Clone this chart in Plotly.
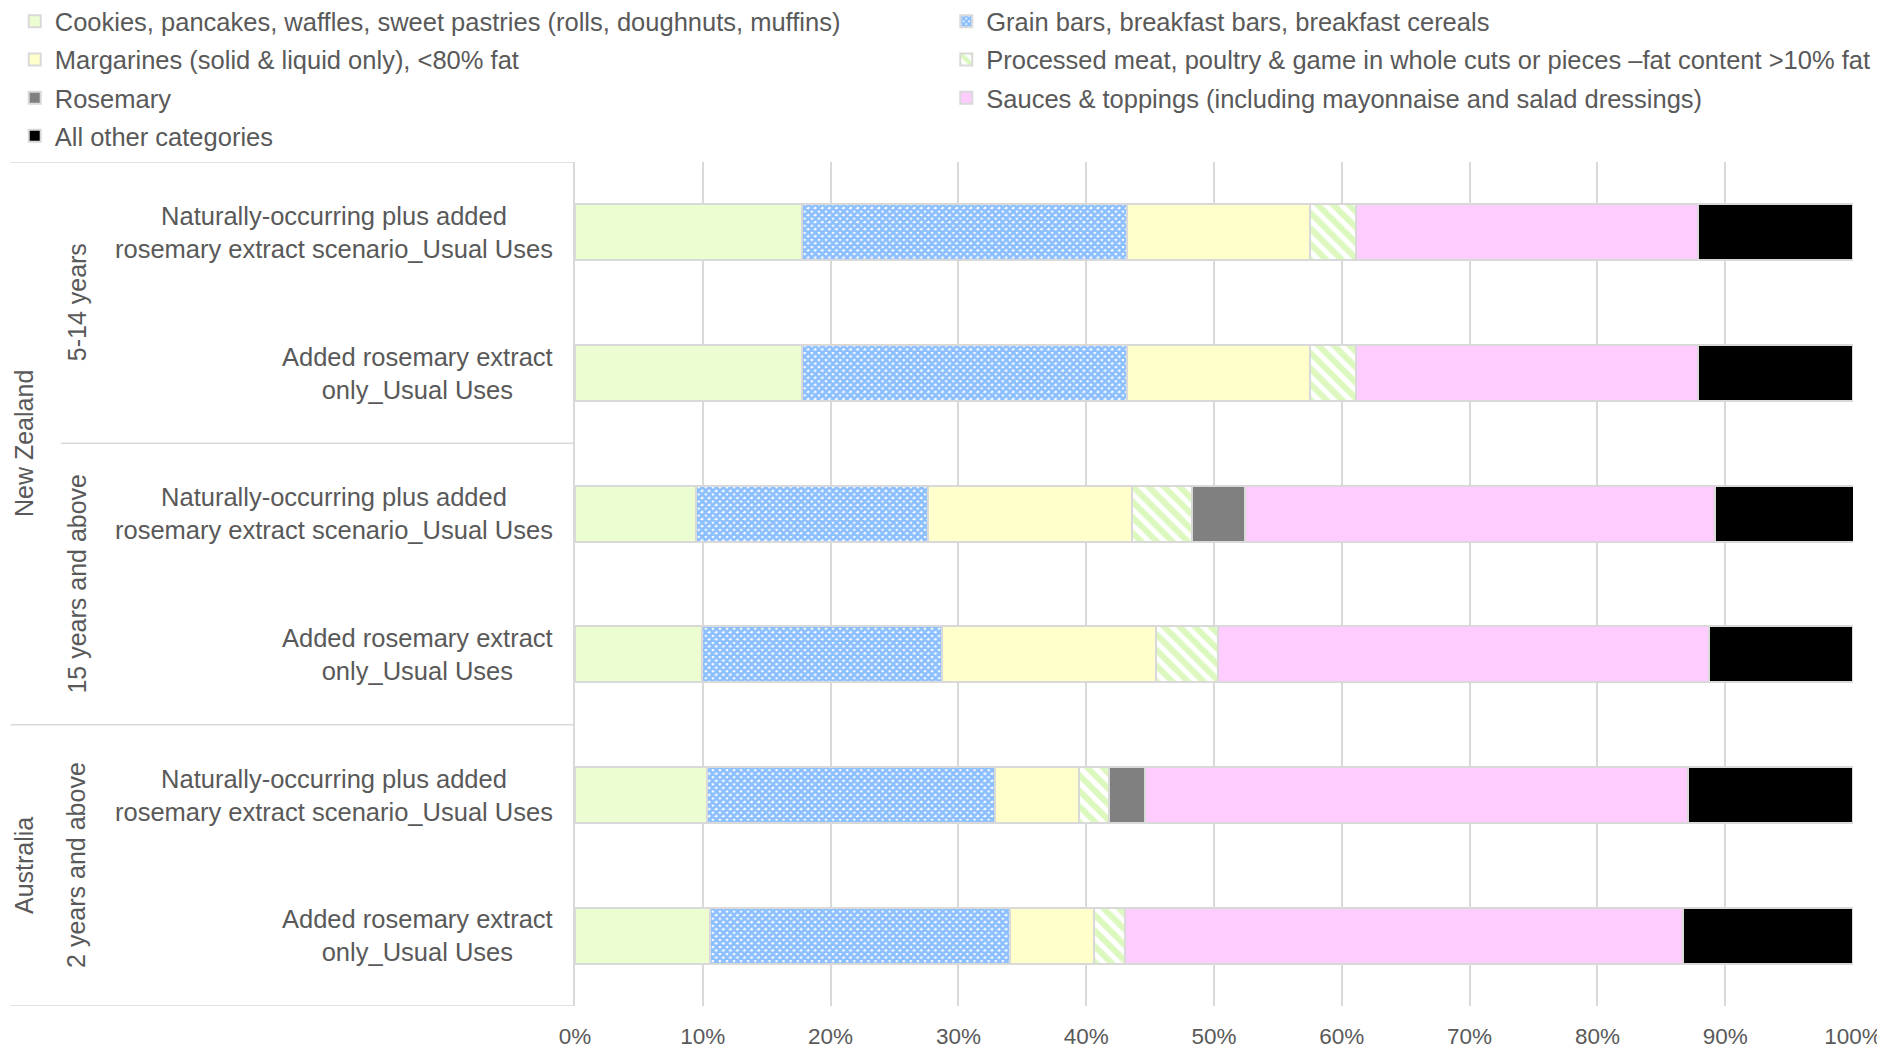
import plotly.graph_objects as go

# ---------------- data ----------------
countries = ["New Zealand", "Australia"]
age_groups = ["5-14 years", "15 years and above", "2 years and above"]
scenarios = [
    "Naturally-occurring plus added<br>rosemary extract scenario_Usual Uses",
    "Added rosemary extract<br>only_Usual Uses",
]
# row keys (top to bottom)
rows = ["NZ 5-14 N", "NZ 5-14 A", "NZ 15+ N", "NZ 15+ A", "AU 2+ N", "AU 2+ A"]
row_scenario = [0, 1, 0, 1, 0, 1]

series_names = [
    "Cookies, pancakes, waffles, sweet pastries (rolls, doughnuts, muffins)",
    "Grain bars, breakfast bars, breakfast cereals",
    "Margarines (solid & liquid only), <80% fat",
    "Processed meat, poultry & game in whole cuts or pieces –fat content >10% fat",
    "Rosemary",
    "Sauces & toppings (including mayonnaise and salad dressings)",
    "All other categories",
]
cookies    = [17.8, 17.8, 9.5, 9.9, 10.3, 10.6]
grain      = [25.4, 25.4, 18.1, 18.8, 22.6, 23.4]
margarines = [14.3, 14.3, 16.0, 16.8, 6.5, 6.6]
processed  = [3.6, 3.6, 4.7, 4.8, 2.4, 2.4]
rosemary   = [0.0, 0.0, 4.1, 0.0, 2.8, 0.0]
sauces     = [26.8, 26.8, 36.8, 38.4, 42.5, 43.7]
other      = [12.1, 12.1, 10.9, 11.3, 12.9, 13.3]
series_values = [cookies, grain, margarines, processed, rosemary, sauces, other]

x_ticks = [0, 10, 20, 30, 40, 50, 60, 70, 80, 90, 100]
x_tick_labels = ["0%", "10%", "20%", "30%", "40%", "50%", "60%", "70%", "80%", "90%", "100%"]

# ---------------- styles ----------------
FONT = "Liberation Sans, Arial, sans-serif"
TXT = "#595959"
GRID = "#d9d9d9"
styles = [
    dict(color="#ecfdd1"),
    dict(color="white", pattern=dict(shape="x", fgcolor="#1a80ff", bgcolor="white", size=5, solidity=0.8)),
    dict(color="#ffffcc"),
    dict(color="white", pattern=dict(shape="\\", fgcolor="#b9f27f", bgcolor="white", size=11, solidity=0.55)),
    dict(color="#808080"),
    dict(color="#ffccff"),
    dict(color="#000000"),
]
legend_of = ["legend", "legend2", "legend", "legend2", "legend", "legend2", "legend"]

fig = go.Figure()
for i, (name, vals, st) in enumerate(zip(series_names, series_values, styles)):
    fig.add_trace(go.Bar(
        y=rows, x=vals, name=name, orientation="h",
        legend=legend_of[i], legendgroup="g%d" % i,
        marker=dict(line=dict(color=GRID, width=2), **st),
        hovertemplate="%{x}%<extra>" + name + "</extra>",
    ))

# scenario labels
for r, s in zip(rows, row_scenario):
    fig.add_annotation(x=-0.016, xref="paper", y=r, yref="y", text=scenarios[s],
                       showarrow=False, xanchor="right", yanchor="middle", align="center",
                       font=dict(family=FONT, size=25.5, color=TXT))

# age-group labels (rotated)
for label, ypos in zip(age_groups, [0.5, 2.5, 4.5]):
    fig.add_annotation(x=-0.390, xref="paper", y=ypos, yref="y", text=label, textangle=-90,
                       showarrow=False, xanchor="center", yanchor="middle",
                       font=dict(family=FONT, size=25, color=TXT))
# country labels (rotated)
for label, ypos in zip(countries, [1.5, 4.5]):
    fig.add_annotation(x=-0.4306, xref="paper", y=ypos, yref="y", text=label, textangle=-90,
                       showarrow=False, xanchor="center", yanchor="middle",
                       font=dict(family=FONT, size=25, color=TXT))

# separator lines in the category area
seps = [(-0.5, -0.4415), (1.5, -0.4024), (3.5, -0.4415), (5.5, -0.4415)]
for yv, x0 in seps:
    fig.add_shape(type="line", xref="paper", yref="y", x0=x0, x1=0, y0=yv, y1=yv,
                  line=dict(color=GRID, width=1.5), layer="below")

legend_common = dict(orientation="v", xanchor="left", yanchor="top", y=1.194,
                     traceorder="grouped", tracegroupgap=2,
                     font=dict(family=FONT, size=25.5, color=TXT), bgcolor="rgba(0,0,0,0)")

fig.update_layout(
    barmode="stack",
    bargap=0.6,
    width=1885, height=1049,
    margin=dict(l=566.5, r=40, t=154, b=51, autoexpand=False),
    plot_bgcolor="white", paper_bgcolor="white",
    font=dict(family=FONT, size=25, color=TXT),
    showlegend=True,
    legend=dict(x=-0.4384, **legend_common),
    legend2=dict(x=0.2905, **legend_common),
    xaxis=dict(range=[0, 100], tickvals=x_ticks, ticktext=x_tick_labels, showgrid=True,
               gridcolor=GRID, gridwidth=1.5, zeroline=False, showline=False,
               ticks="outside", ticklen=10, tickcolor="white",
               tickfont=dict(family=FONT, size=22.5, color=TXT)),
    yaxis=dict(type="category", categoryorder="array", categoryarray=rows,
               range=[5.5, -0.5], showticklabels=False, showgrid=False,
               zeroline=False, showline=True, linecolor=GRID, linewidth=1.5),
)

fig.write_html("out.html")
